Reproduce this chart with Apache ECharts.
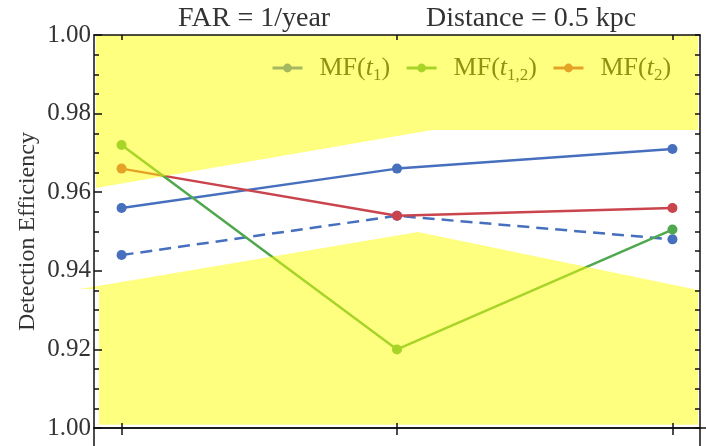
<!DOCTYPE html>
<html><head><meta charset="utf-8">
<script src="https://cdn.jsdelivr.net/npm/echarts@6/dist/echarts.min.js"></script>
<style>html,body{margin:0;padding:0;background:#fff}#c{width:706px;height:446px}</style>
</head><body><div id="c"></div>
<script>
// ---- data ----
const xPositions = [0, 1, 2];
const mfT1 = [0.956, 0.966, 0.971];
const mfT1Dashed = [0.944, 0.954, 0.948];
const mfT12 = [0.972, 0.920, 0.9505];
const mfT2 = [0.966, 0.954, 0.956];
const yTickValues = [0.90, 0.92, 0.94, 0.96, 0.98, 1.00];
const yTickLabels = ['1.00', '0.92', '0.94', '0.96', '0.98', '1.00'];
const legendNames = ['MF(t1)', 'MF(t1,2)', 'MF(t2)'];
const legendSubscripts = ['1', '1,2', '2'];
const titleLeftText = 'FAR = 1/year';
const titleRightText = 'Distance = 0.5 kpc';
const yAxisTitle = 'Detection Efficiency';
const upperBandX = [-0.093, 2.093, 2.093, 1.127, -0.093];
const upperBandY = [1.0, 1.0, 0.9758, 0.9758, 0.9611];
const lowerBandX = [-0.151, 1.076, 2.093, 2.093, -0.082, -0.082];
const lowerBandY = [0.9354, 0.9499, 0.9351, 0.9008, 0.9008, 0.9354];

// ---- style ----
const FONT = 'Liberation Serif';
const BLUE = '#4670BE', RED = '#C9444C', GREEN = '#4FA84E';
const G = {left: 94, right: 6, top: 35, bottom: 18};

const pts = arr => xPositions.map((x, i) => [x, arr[i]]);
const legendRich = {};
legendNames.forEach((n, i) => legendRich[n] = '{n|MF(}{i|t}{s|' + legendSubscripts[i] + '}{n|)}');

function lineSeries(name, arr, color, dashed) {
  return {
    type: 'line', name: name, data: pts(arr), z: 3,
    symbol: 'circle', symbolSize: 10, showSymbol: true,
    itemStyle: {color: color},
    lineStyle: {color: color, width: 2.5, type: dashed ? [12, 7] : 'solid'},
    emphasis: {disabled: true}, animation: false
  };
}

const chart = echarts.init(document.getElementById('c'), null, {renderer: 'canvas'});
chart.setOption({
  animation: false,
  backgroundColor: '#fff',
  title: [
    {text: titleLeftText, left: 178, top: 5, padding: 0,
     textStyle: {fontFamily: FONT, fontSize: 28, fontWeight: 'normal', color: '#333'}},
    {text: titleRightText, left: 426, top: 5, padding: 0,
     textStyle: {fontFamily: FONT, fontSize: 28, fontWeight: 'normal', color: '#333'}}
  ],
  legend: {
    data: legendNames, left: 271, top: 55, z: 1, padding: 0,
    itemWidth: 30, itemHeight: 11, itemGap: 15,
    lineStyle: {width: 3},
    formatter: n => legendRich[n],
    textStyle: {
      fontFamily: FONT, fontSize: 26, color: '#222', padding: [0, 0, 0, 12],
      rich: {
        n: {fontFamily: FONT, fontSize: 26, color: '#222', verticalAlign: 'middle', lineHeight: 32},
        i: {fontFamily: FONT, fontSize: 26, color: '#222', fontStyle: 'italic', verticalAlign: 'middle', lineHeight: 32},
        s: {fontFamily: FONT, fontSize: 17, color: '#222', verticalAlign: 'bottom', lineHeight: 32}
      }
    }
  },
  grid: Object.assign({containLabel: false, outerBoundsMode: 'none'}, G),
  xAxis: [
    {type: 'value', position: 'bottom', min: -0.1, max: 2.1, z: 20,
     axisLine: {show: true, onZero: false, lineStyle: {color: '#111', width: 1.5}},
     axisTick: {show: true, inside: true, length: 5, customValues: xPositions, lineStyle: {color: '#111', width: 1.5}},
     axisLabel: {show: false}, splitLine: {show: false}},
    {type: 'value', position: 'bottom', min: -0.1, max: 2.1, z: 20,
     axisLine: {show: true, onZero: false, lineStyle: {color: '#111', width: 1.5}},
     axisTick: {show: true, inside: false, length: 7, customValues: xPositions, lineStyle: {color: '#111', width: 1.5}},
     axisLabel: {show: false}, splitLine: {show: false}},
    {type: 'value', position: 'top', min: -0.1, max: 2.1, z: 20,
     axisLine: {show: true, onZero: false, lineStyle: {color: '#111', width: 1.5}},
     axisTick: {show: true, inside: true, length: 5, customValues: xPositions, lineStyle: {color: '#111', width: 1.5}},
     axisLabel: {show: false}, splitLine: {show: false}}
  ],
  yAxis: [
    {type: 'value', position: 'left', min: 0.9, max: 1.0, interval: 0.02, z: 20,
     name: yAxisTitle, nameLocation: 'middle', nameGap: 54, nameRotate: 90, nameMoveOverlap: false,
     nameTextStyle: {fontFamily: FONT, fontSize: 24, color: '#333'},
     axisLine: {show: true, onZero: false, lineStyle: {color: '#111', width: 1.5}},
     axisTick: {show: true, inside: true, length: 8, lineStyle: {color: '#111', width: 1.5}},
     minorTick: {show: true, splitNumber: 4, length: 5, lineStyle: {color: '#111', width: 1.5}},
     axisLabel: {show: true, margin: 3, fontFamily: FONT, fontSize: 25, color: '#333',
       formatter: v => yTickLabels[yTickValues.findIndex(t => Math.abs(t - v) < 1e-6)]},
     splitLine: {show: false}, minorSplitLine: {show: false}},
    {type: 'value', position: 'right', min: 0.9, max: 1.0, interval: 0.02, z: 20,
     axisLine: {show: true, onZero: false, lineStyle: {color: '#111', width: 1.5}},
     axisTick: {show: true, inside: true, length: 5, lineStyle: {color: '#111', width: 1.5}},
     minorTick: {show: true, splitNumber: 4, length: 5, lineStyle: {color: '#111', width: 1.5}},
     axisLabel: {show: false}, splitLine: {show: false}, minorSplitLine: {show: false}}
  ],
  series: [
    lineSeries('MF(t1)', mfT1, BLUE, false),
    lineSeries('MF(t1) dashed', mfT1Dashed, BLUE, true),
    lineSeries('MF(t2)', mfT2, RED, false),
    lineSeries('MF(t1,2)', mfT12, GREEN, false),
    {
      type: 'custom', name: 'band', z: 10, silent: true, clip: false,
      data: [[0, 0.95], [1, 0.95]],
      renderItem: function (params, api) {
        const xs = params.dataIndex === 0 ? upperBandX : lowerBandX;
        const ys = params.dataIndex === 0 ? upperBandY : lowerBandY;
        return {
          type: 'polygon',
          shape: {points: xs.map((x, k) => api.coord([x, ys[k]]))},
          style: {fill: 'rgba(255,255,0,0.5)'}
        };
      }
    }
  ],
  graphic: [
    {type: 'line', z: 30, shape: {x1: G.left, y1: 446 - G.bottom, x2: G.left, y2: 446}, style: {stroke: '#111', lineWidth: 1.5}},
    {type: 'line', z: 30, shape: {x1: 706 - G.right, y1: 446 - G.bottom, x2: 706 - G.right, y2: 446}, style: {stroke: '#111', lineWidth: 1.5}},
    {type: 'line', z: 30, shape: {x1: 706 - G.right, y1: 446 - G.bottom, x2: 706, y2: 446 - G.bottom}, style: {stroke: '#111', lineWidth: 1.5}}
  ]
});
</script>
</body></html>
